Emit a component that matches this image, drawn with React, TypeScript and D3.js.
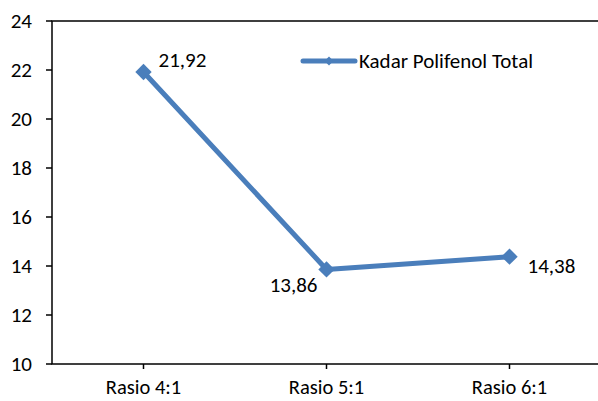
import React, { useEffect, useRef } from 'react';
import * as d3 from 'd3';

const categories = ['Rasio 4:1', 'Rasio 5:1', 'Rasio 6:1'];
const values = [21.92, 13.86, 14.38];
const valueLabels = ['21,92', '13,86', '14,38'];
const yTicks = [10, 12, 14, 16, 18, 20, 22, 24];
const seriesName = 'Kadar Polifenol Total';

const App: React.FC = () => {
  const svgRef = useRef<SVGSVGElement>(null);

  useEffect(() => {
    if (!svgRef.current) return;
    const svg = d3.select(svgRef.current);
    svg.selectAll('*').remove();

    const left = 52, right = 601, top = 21, bottom = 364;
    const color = '#4a7ebb';
    const font = 'Carlito, "Open Sans", "Liberation Sans", sans-serif';
    const fs = 21;

    const x = d3.scalePoint<string>().domain(categories).range([left, right]).padding(0.5);
    const y = d3.scaleLinear().domain([10, 24]).range([bottom, top]);

    // frame
    svg.append('rect')
      .attr('x', left).attr('y', top)
      .attr('width', right - left).attr('height', bottom - top)
      .attr('fill', 'none').attr('stroke', '#000').attr('stroke-width', 1.5);

    // y ticks + labels
    yTicks.forEach(t => {
      svg.append('line')
        .attr('x1', left - 6).attr('x2', left)
        .attr('y1', y(t)).attr('y2', y(t))
        .attr('stroke', '#000').attr('stroke-width', 1.5);
      svg.append('text')
        .attr('x', 32).attr('y', y(t))
        .attr('text-anchor', 'end').attr('dominant-baseline', 'central')
        .attr('font-family', font).attr('font-size', fs)
        .text(t);
    });

    // x ticks + labels
    categories.forEach(c => {
      svg.append('line')
        .attr('x1', x(c)!).attr('x2', x(c)!)
        .attr('y1', bottom).attr('y2', bottom + 5)
        .attr('stroke', '#000').attr('stroke-width', 1.5);
      svg.append('text')
        .attr('x', x(c)!).attr('y', 387)
        .attr('text-anchor', 'middle').attr('dominant-baseline', 'central')
        .attr('font-family', font).attr('font-size', 20.5)
        .text(c);
    });

    const line = d3.line<number>()
      .x((d, i) => x(categories[i])!)
      .y(d => y(d));

    svg.append('path')
      .datum(values)
      .attr('d', line)
      .attr('fill', 'none')
      .attr('stroke', color)
      .attr('stroke-width', 5)
      .attr('stroke-linejoin', 'round');

    const diamond = d3.symbol().type(d3.symbolDiamond2).size(170);
    values.forEach((v, i) => {
      svg.append('path')
        .attr('d', diamond)
        .attr('transform', `translate(${x(categories[i])},${y(v)})`)
        .attr('fill', color);
    });

    // data labels
    const labelPos = [
      { dx: 15, dy: -12, anchor: 'start' },
      { dx: -9, dy: 16, anchor: 'end' },
      { dx: 18, dy: 9, anchor: 'start' },
    ];
    values.forEach((v, i) => {
      const p = labelPos[i];
      svg.append('text')
        .attr('x', x(categories[i])! + p.dx).attr('y', y(v) + p.dy)
        .attr('text-anchor', p.anchor).attr('dominant-baseline', 'central')
        .attr('font-family', font).attr('font-size', fs)
        .text(valueLabels[i]);
    });

    // legend
    svg.append('line')
      .attr('x1', 303).attr('x2', 355).attr('y1', 61).attr('y2', 61)
      .attr('stroke', color).attr('stroke-width', 5).attr('stroke-linecap', 'round');
    svg.append('path')
      .attr('d', d3.symbol().type(d3.symbolDiamond2).size(50))
      .attr('transform', 'translate(329,61)')
      .attr('fill', color);
    svg.append('text')
      .attr('x', 359).attr('y', 61)
      .attr('dominant-baseline', 'central')
      .attr('font-family', font).attr('font-size', fs)
      .text(seriesName);
  }, []);

  return (
    <svg ref={svgRef} width={598} height={401}
      style={{ position: 'absolute', left: 0, top: 0, background: '#fff' }} />
  );
};

export default App;
